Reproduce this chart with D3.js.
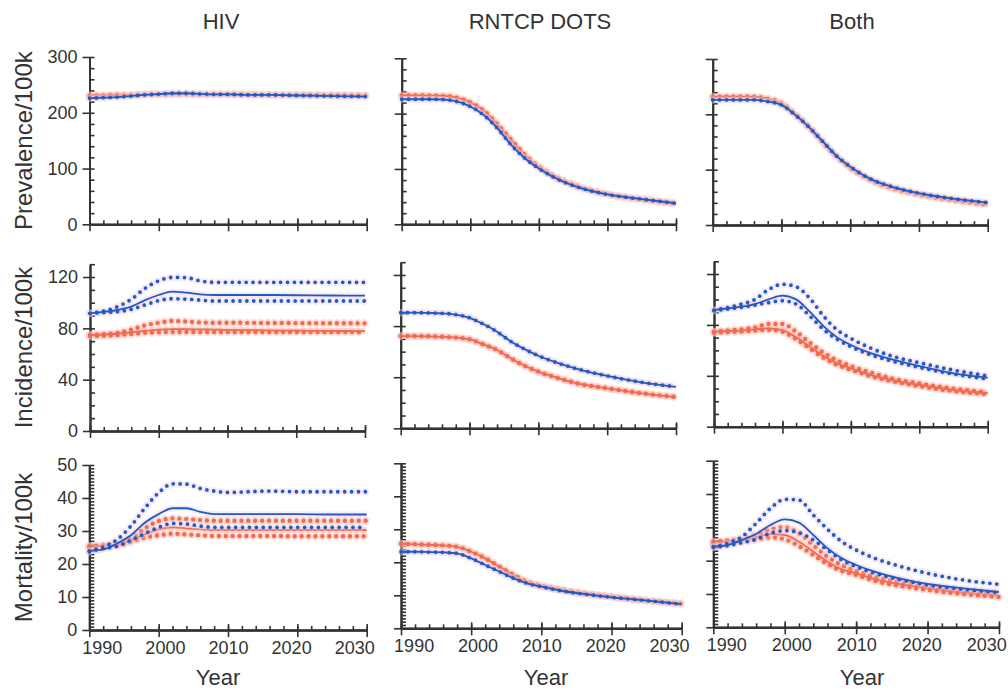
<!DOCTYPE html>
<html>
<head>
<meta charset="utf-8">
<script src="https://cdn.jsdelivr.net/npm/d3@7"></script>
<style>
  body { margin: 0; background: #fff; }
  svg { display: block; font-family: "Liberation Sans", Arial, sans-serif; }
</style>
</head>
<body>
<svg id="chart" width="1008" height="692"></svg>
<script>
// x の年
const years = [1990, 1992, 1994, 1996, 1998, 2000, 2002, 2004, 2006, 2008, 2010, 2013, 2016, 2020, 2025, 2030];
const xMajor = [1990, 2000, 2010, 2020, 2030];

const colTitles = ["HIV", "RNTCP DOTS", "Both"];
const rowTitles = ["Prevalence/100k", "Incidence/100k", "Mortality/100k"];
const yMajorTicks = [[0, 100, 200, 300], [0, 40, 80, 120], [0, 10, 20, 30, 40, 50]];

// Prevalence
const prevHivRed   = [231, 231, 232, 232, 233, 233, 233.5, 233.5, 233, 233, 233, 232.5, 232, 232, 231.5, 231];
const prevHivBlue  = [226, 227, 228, 230, 232, 233.5, 235, 235, 234, 233, 233, 232, 232, 231, 230, 229];
const prevDotsRed  = [233, 233, 232.5, 232, 229, 220, 205, 180, 152, 125, 104, 82, 67, 54.5, 45, 37.5];
const prevDotsBlue = [226, 226, 226, 225.5, 222, 213, 197, 173, 143, 119, 101, 80, 66, 54, 45.5, 38];
const prevBothRed  = [232, 232, 232, 231.5, 228, 220, 200, 177, 150, 124, 104, 81, 67, 55, 45, 37];
const prevBothBlue = [226, 226, 226, 226, 223, 217, 199, 177, 151, 125, 105.5, 83, 69.5, 57.5, 47.5, 40.5];

// Incidence
const incHivBlue   = [91.7, 92.8, 94.3, 96.9, 102, 106, 108.6, 107.8, 106.5, 106, 106, 106, 106, 105.8, 105.6, 105.5];
const incHivBlueHi = [91.7, 93.5, 96.9, 102.6, 111.2, 117.1, 119.7, 119.5, 117, 115.9, 115.9, 115.9, 115.9, 115.9, 115.9, 115.9];
const incHivBlueLo = [91.7, 92.3, 93, 94.8, 98.2, 101.6, 103.1, 102.8, 102, 101.3, 101.3, 101.3, 101.3, 101.3, 101.3, 101.3];
const incHivRed    = [74.8, 75.2, 75.8, 76.8, 78, 79, 79.4, 79.3, 79.2, 79, 78.8, 78.6, 78.4, 78.2, 78, 77.9];
const incHivRedHi  = [74.8, 75.5, 76.5, 79, 82.3, 84.4, 85.7, 85.3, 84.6, 84.4, 84.4, 84.3, 84.2, 84.1, 84, 83.9];
const incHivRedLo  = [74, 74.3, 74.8, 75.6, 76.5, 77, 77.2, 77.2, 77.1, 77.1, 77.1, 77.1, 77.1, 77.1, 77.1, 77.1];

const incDotsBlue  = [90.5, 90.5, 90.3, 90, 89, 86.5, 81.6, 75.6, 68, 62, 56.8, 50.8, 46, 41, 36, 32.5];
const incDotsRed   = [72.2, 72.2, 72, 71.6, 71, 69.7, 65.7, 61.3, 54.8, 49, 44.3, 39.1, 34.7, 31.3, 27.4, 24.5];

const incBothBlue   = [91.7, 93, 94.3, 96.4, 100.1, 103, 100.1, 90.4, 79.1, 70.2, 64.2, 57.6, 52.9, 47.7, 41.9, 38.5];
const incBothBlueHi = [91.7, 93.5, 96.4, 100.1, 107.9, 111.9, 110, 100.9, 87, 76, 69.4, 61.6, 55.5, 50.3, 44.5, 40];
const incBothBlueLo = [91.2, 92.5, 93.8, 95.6, 97.5, 99, 96.4, 87, 76.5, 68.6, 62.9, 56.3, 51.6, 46.6, 41.4, 37.5];
const incBothRed    = [74.7, 75.1, 75.5, 76.5, 77.3, 76, 70.2, 62.9, 55.5, 49.8, 45.9, 40.6, 36.7, 32.8, 28.8, 26.5];
const incBothRedHi  = [74.7, 75.5, 76.5, 78, 80.7, 80.7, 74.7, 66, 58.2, 51.9, 47.7, 42.4, 38, 34, 29.9, 27];
const incBothRedLo  = [74, 74.4, 74.8, 75.6, 76.2, 74.6, 68.8, 61.5, 54.3, 48.6, 44.8, 39.6, 35.8, 31.9, 28, 25.6];

// Mortality
const mortHivBlue   = [24, 24.4, 26.2, 28.7, 32.5, 35.1, 36.9, 36.9, 35.8, 35.1, 35.1, 35.1, 35.1, 35.1, 35, 35];
const mortHivBlueHi = [24, 25.2, 27.4, 31.5, 36.9, 41.6, 44.3, 44.2, 42.9, 42.1, 41.7, 41.9, 42.1, 41.9, 41.9, 41.9];
const mortHivBlueLo = [23.7, 24.7, 25.4, 27.2, 29.2, 31.1, 32.3, 32.1, 31.5, 31.1, 31.1, 31.1, 31.1, 31.1, 31.1, 31.1];
const mortHivRed    = [25.4, 25.5, 25.7, 27.2, 29, 30.5, 31.1, 30.8, 30.5, 30.3, 30.3, 30.3, 30.3, 30.3, 30.3, 30.3];
const mortHivRedHi  = [25.4, 25.6, 26.2, 27.7, 30.8, 33, 33.8, 33.6, 33.3, 33.1, 33.1, 33.1, 33.1, 33.1, 33.1, 33.1];
const mortHivRedLo  = [25, 25.2, 25.6, 26.7, 28, 28.7, 29.2, 29, 28.7, 28.5, 28.5, 28.5, 28.5, 28.4, 28.4, 28.4];

const mortDotsBlue  = [23.2, 23.2, 23.1, 23, 22.7, 21.2, 19.2, 17.2, 15.2, 13.6, 12.6, 11.3, 10.4, 9.4, 8.4, 7.3];
const mortDotsRed   = [25.6, 25.5, 25.3, 25.1, 24.7, 23.2, 21.2, 18.7, 16.2, 14.1, 12.9, 11.6, 10.6, 9.6, 8.4, 7.5];

const mortBothBlue   = [24.2, 24.7, 26.2, 28, 30.7, 32.4, 31.4, 27.7, 23.7, 20.7, 18.7, 16.4, 14.7, 13, 11.7, 10.6];
const mortBothBlueHi = [24.2, 25.2, 27.2, 31.2, 35.7, 38.4, 38.2, 33.7, 29.4, 25.7, 23.2, 20.4, 18.4, 16.2, 14.2, 12.9];
const mortBothBlueLo = [24, 24.5, 25.4, 26.4, 28.2, 29, 28.4, 26.2, 23.2, 20.2, 18.2, 16, 14.4, 12.7, 11.4, 10.4];
const mortBothRed    = [25.7, 25.8, 26, 27, 28, 27.7, 25.7, 22.7, 19.7, 17.4, 16.2, 14.2, 13, 11.7, 10.4, 9.6];
const mortBothRedHi  = [25.7, 26, 26.5, 27.7, 29.4, 30, 28.2, 24.7, 21.2, 18.7, 17, 15, 13.7, 12.2, 10.7, 9.9];
const mortBothRedLo  = [25.2, 25.4, 25.8, 26.4, 27, 26.4, 24.4, 21.7, 19, 16.9, 15.7, 13.7, 12.5, 11.2, 10, 9.1];

// パネル構成 (mid = 実線, dots = 点線)
const panels = [
    {row: 0, col: 0, red: {mid: prevHivRed, dots: [prevHivRed]}, blue: {mid: prevHivBlue, dots: [prevHivBlue]}},
    {row: 0, col: 1, red: {mid: prevDotsRed, dots: [prevDotsRed]}, blue: {mid: prevDotsBlue, dots: [prevDotsBlue]}},
    {row: 0, col: 2, red: {mid: prevBothRed, dots: [prevBothRed]}, blue: {mid: prevBothBlue, dots: [prevBothBlue]}},
    {row: 1, col: 0, red: {mid: incHivRed, dots: [incHivRedHi, incHivRedLo]}, blue: {mid: incHivBlue, dots: [incHivBlueHi, incHivBlueLo]}},
    {row: 1, col: 1, red: {mid: incDotsRed, dots: [incDotsRed]}, blue: {mid: incDotsBlue, dots: [incDotsBlue]}},
    {row: 1, col: 2, red: {mid: incBothRed, dots: [incBothRedHi, incBothRedLo]}, blue: {mid: incBothBlue, dots: [incBothBlueHi, incBothBlueLo]}},
    {row: 2, col: 0, red: {mid: mortHivRed, dots: [mortHivRedHi, mortHivRedLo]}, blue: {mid: mortHivBlue, dots: [mortHivBlueHi, mortHivBlueLo]}},
    {row: 2, col: 1, red: {mid: mortDotsRed, dots: [mortDotsRed]}, blue: {mid: mortDotsBlue, dots: [mortDotsBlue]}},
    {row: 2, col: 2, red: {mid: mortBothRed, dots: [mortBothRedHi, mortBothRedLo]}, blue: {mid: mortBothBlue, dots: [mortBothBlueHi, mortBothBlueLo]}}
];

// レイアウト: [x0, x1, y(0), y(axisMax)]
const boxes = [
    [[89.5, 366.7, 224.3, 57], [401.7, 676, 224.3, 58.3], [712.7, 987.7, 225, 59]],
    [[90, 365, 431, 264.2], [400.7, 676, 428.3, 262.2], [714, 987.7, 426.7, 261.3]],
    [[89.3, 366.7, 630, 465], [401, 681.7, 628.3, 463.3], [713.3, 999, 627.3, 460.7]]
];
const axisMax = [300, 130, 50];
const minorStep = [20, 10, 1];
const titleX = [221, 540, 852];
const yearX = [218, 546, 862];

const RED = "#f26a52", RED_HALO = "#fbbdb0";
const BLUE = "#1d5cc6", BLUE_HALO = "#edc6da";
const DOT_GAP = "0 6.9";

const svg = d3.select("#chart");

// 列タイトル
svg.selectAll(".col-title")
    .data(colTitles)
    .enter()
    .append("text")
    .attr("x", (d, i) => titleX[i])
    .attr("y", 29)
    .attr("text-anchor", "middle")
    .style("font-size", "22px")
    .style("fill", "#333")
    .text(d => d);

// 行タイトル
rowTitles.forEach((t, r) => {
    const b = boxes[r][0];
    const cy = (b[2] + b[3]) / 2;
    svg.append("text")
        .attr("transform", `translate(32, ${cy}) rotate(-90)`)
        .attr("text-anchor", "middle")
        .style("font-size", "24px")
        .style("fill", "#333")
        .text(t);
});

// Year ラベル
yearX.forEach(x => {
    svg.append("text")
        .attr("x", x)
        .attr("y", 685)
        .attr("text-anchor", "middle")
        .style("font-size", "22px")
        .style("fill", "#333")
        .text("Year");
});

panels.forEach(p => {
    const b = boxes[p.row][p.col];
    const x = d3.scaleLinear().domain([1990, 2030]).range([b[0], b[1]]);
    const y = d3.scaleLinear().domain([0, axisMax[p.row]]).range([b[2], b[3]]);
    const g = svg.append("g");

    const yMinor = d3.range(0, axisMax[p.row] + 0.001, minorStep[p.row]);
    const xMinor = d3.range(1990, 2030.001, 2);

    // y 軸
    g.append("g")
        .attr("transform", `translate(${b[0]},0)`)
        .call(d3.axisRight(y).tickValues(yMinor).tickSize(5).tickSizeOuter(0).tickFormat(""));
    g.append("g")
        .attr("transform", `translate(${b[0]},0)`)
        .call(d3.axisLeft(y).tickValues(yMajorTicks[p.row]).tickSize(7).tickPadding(5).tickSizeOuter(0)
            .tickFormat(p.col === 0 ? d3.format("d") : ""));

    // x 軸
    g.append("g")
        .attr("transform", `translate(0,${b[2]})`)
        .call(d3.axisTop(x).tickValues(xMinor).tickSize(4).tickSizeOuter(0).tickFormat(""));
    g.append("g")
        .attr("transform", `translate(0,${b[2]})`)
        .call(d3.axisTop(x).tickValues(xMajor).tickSize(6).tickSizeOuter(0).tickFormat(""));
    const xAxis = g.append("g")
        .attr("transform", `translate(0,${b[2]})`)
        .call(d3.axisBottom(x).tickValues(xMajor).tickSize(7).tickPadding(4).tickSizeOuter(0)
            .tickFormat(p.row === 2 ? d3.format("d") : ""));

    const mid = (b[0] + b[1]) / 2;
    xAxis.selectAll("text").attr("dx", d => (mid - x(d)) * 0.09);

    g.selectAll(".domain, .tick line")
        .attr("stroke", "#333")
        .attr("stroke-width", 1.6);
    g.selectAll(".domain").attr("stroke-width", 2);
    g.selectAll("g")
        .attr("font-family", null)
        .attr("font-size", null);
    g.selectAll("text")
        .style("font-size", "18px")
        .style("fill", "#333");

    // 線
    const line = d3.line()
        .x((d, i) => x(years[i]))
        .y(d => y(d))
        .curve(d3.curveMonotoneX);

    const plot = g.append("g");
    [[p.red, RED, RED_HALO, 4.4, 0.5], [p.blue, BLUE, BLUE_HALO, 3.8, 0.35]].forEach(([s, col, halo, dotW, op]) => {
        // ハロー
        plot.append("path")
            .attr("d", line(s.mid))
            .attr("fill", "none")
            .attr("stroke", halo)
            .attr("stroke-opacity", op)
            .attr("stroke-width", 6);
        s.dots.forEach(ds => {
            plot.append("path")
                .attr("d", line(ds))
                .attr("fill", "none")
                .attr("stroke", halo)
                .attr("stroke-opacity", op)
                .attr("stroke-width", dotW + 4)
                .attr("stroke-linecap", "round")
                .attr("stroke-dasharray", DOT_GAP);
        });
        // 実線
        plot.append("path")
            .attr("d", line(s.mid))
            .attr("fill", "none")
            .attr("stroke", col)
            .attr("stroke-width", 1.8);
        // 点線
        s.dots.forEach(ds => {
            plot.append("path")
                .attr("d", line(ds))
                .attr("fill", "none")
                .attr("stroke", col)
                .attr("stroke-width", dotW)
                .attr("stroke-linecap", "round")
                .attr("stroke-dasharray", DOT_GAP);
        });
    });
});
</script>
</body>
</html>
